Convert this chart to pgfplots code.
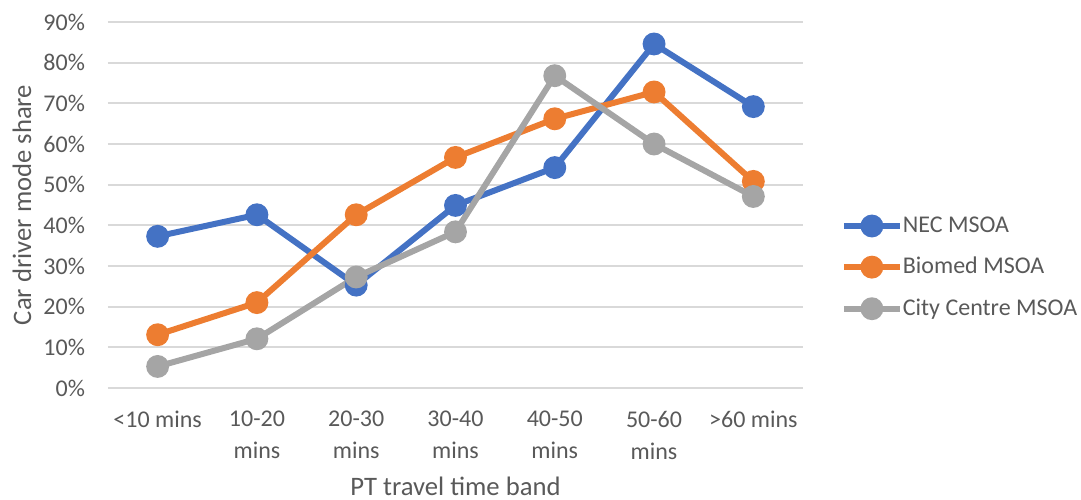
\documentclass[border=0pt]{standalone}
\usepackage{fontspec}
\setmainfont{Carlito}
\usepackage{pgfplots}
\pgfplotsset{compat=1.18}
\definecolor{cblue}{HTML}{4472C4}
\definecolor{corange}{HTML}{ED7D31}
\definecolor{cgray}{HTML}{A5A5A5}
\definecolor{gridgray}{HTML}{D9D9D9}
\definecolor{labelgray}{HTML}{595959}
\begin{document}
\begin{tikzpicture}
\useasboundingbox (0,0) rectangle (540.5pt,249.5pt);
\begin{axis}[
  at={(54pt,55.5pt)}, anchor=south west,
  scale only axis, width=347.5pt, height=183pt,
  xmin=-0.5, xmax=6.5, ymin=0, ymax=90,
  xtick={0,...,6},
  xticklabels={{<10 mins},{10-20\\mins},{20-30\\mins},{30-40\\mins},{40-50\\mins},{50-60\\mins},{>60 mins}},
  ytick={0,10,...,90},
  yticklabel={\pgfmathprintnumber{\tick}\%},
  /pgf/number format/assume math mode=true,
  ymajorgrids, grid style={color=gridgray, line width=1pt},
  axis line style={draw=none}, major tick length=0pt,
  tick label style={font=\fontsize{12}{15}\selectfont, text=labelgray},
  yticklabel style={xshift=-8pt},
  xticklabel style={align=center, anchor=north, yshift=-8pt, font=\fontsize{12}{16}\selectfont},
  xlabel={PT travel time band}, ylabel={Car driver mode share},
  label style={font=\fontsize{13.33}{16}\selectfont, text=labelgray},
  xlabel style={at={(axis description cs:0.5,0)}, anchor=center, yshift=-49pt},
  ylabel style={at={(axis description cs:0,0.5)}, anchor=center, yshift=43pt},
  legend style={at={(1.054,0.329)}, anchor=west, draw=none, fill=none, inner sep=0pt,
    font=\fontsize{12}{15}\selectfont, text=labelgray, row sep=7pt, cells={anchor=west},
    /tikz/every odd column/.append style={column sep=-2pt}},
  legend image code/.code={\draw[mark repeat=2,mark phase=2,#1] plot coordinates {(0pt,0pt) (14pt,0pt) (28pt,0pt)};},
  every axis plot/.append style={line width=3pt, mark=*, mark size=4.2pt, mark options={solid}},
]
\addplot[color=cblue] coordinates {(0,37.3) (1,42.6) (2,25.3) (3,44.9) (4,54.2) (5,84.6) (6,69.2)};
\addlegendentry{NEC MSOA}
\addplot[color=corange] coordinates {(0,13.1) (1,21.0) (2,42.6) (3,56.7) (4,66.2) (5,72.8) (6,50.8)};
\addlegendentry{Biomed MSOA}
\addplot[color=cgray] coordinates {(0,5.3) (1,12.1) (2,27.3) (3,38.4) (4,76.8) (5,60.0) (6,47.1)};
\addlegendentry{City Centre MSOA}
\end{axis}
\end{tikzpicture}
\end{document}
